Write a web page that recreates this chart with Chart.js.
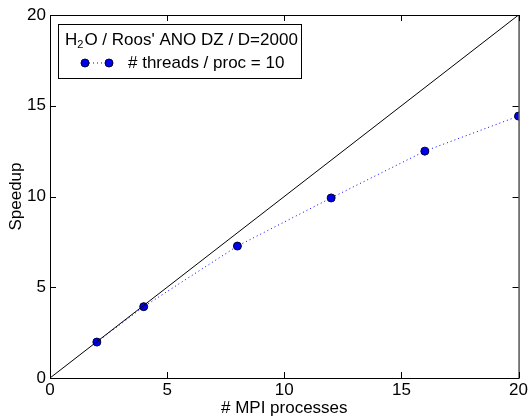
<!DOCTYPE html>
<html>
<head>
<meta charset="utf-8">
<script src="https://cdn.jsdelivr.net/npm/chart.js@4"></script>
<style>
  html, body { margin: 0; padding: 0; background: #fff; }
  #wrap { width: 530px; height: 419px; }
</style>
</head>
<body>
<div id="wrap"><canvas id="speedupChart"></canvas></div>
<script>
// values
const mpiProcs = [2, 4, 8, 12, 16, 20];
const speedup = [1.98, 3.93, 7.27, 9.92, 12.5, 14.43];
const idealX = [0, 20];
const idealY = [0, 20];
const axisTicks = [0, 5, 10, 15, 20];

const FONT = 'Liberation Sans, Arial, sans-serif';

// matplotlib-like frame with inward ticks on all four sides
const framePlugin = {
    id: 'frame',
    afterDatasetsDraw(chart) {
        const { ctx, chartArea: a, scales } = chart;
        ctx.save();
        ctx.strokeStyle = '#000';
        ctx.lineWidth = 1;
        ctx.strokeRect(a.left + 0.5, a.top + 0.5, a.right - a.left, a.bottom - a.top);
        ctx.beginPath();
        axisTicks.forEach(v => {
            const x = Math.round(scales.x.getPixelForValue(v)) + 0.5;
            ctx.moveTo(x, a.bottom); ctx.lineTo(x, a.bottom - 6);
            ctx.moveTo(x, a.top); ctx.lineTo(x, a.top + 6);
            const y = Math.round(scales.y.getPixelForValue(v)) + 0.5;
            ctx.moveTo(a.left, y); ctx.lineTo(a.left + 6, y);
            ctx.moveTo(a.right, y); ctx.lineTo(a.right - 6, y);
        });
        ctx.stroke();
        ctx.restore();
    }
};

// legend box in upper left, drawn by hand
const legendPlugin = {
    id: 'boxLegend',
    afterDraw(chart) {
        const { ctx, chartArea: a } = chart;
        const bx = a.left + 8, by = a.top + 9, bw = 243, bh = 54;
        ctx.save();
        ctx.fillStyle = '#fff';
        ctx.fillRect(bx, by, bw, bh);
        ctx.strokeStyle = '#000';
        ctx.lineWidth = 1;
        ctx.strokeRect(bx + 0.5, by + 0.5, bw, bh);

        ctx.fillStyle = '#000';
        ctx.textBaseline = 'middle';
        ctx.font = '17px ' + FONT;
        let tx = bx + 7;
        const ty = by + 16;
        ctx.fillText('H', tx, ty);
        tx += ctx.measureText('H').width;
        ctx.font = '11px ' + FONT;
        ctx.fillText('2', tx, ty + 5);
        tx += ctx.measureText('2').width + 1;
        ctx.font = '17px ' + FONT;
        ctx.fillText("O / Roos' ANO DZ / D=2000", tx, ty);

        const ly = by + 39;
        ctx.strokeStyle = '#0000ff';
        ctx.setLineDash([1, 3]);
        ctx.beginPath();
        ctx.moveTo(bx + 27, ly); ctx.lineTo(bx + 51, ly);
        ctx.stroke();
        ctx.setLineDash([]);
        [bx + 27, bx + 51].forEach(px => {
            ctx.beginPath();
            ctx.arc(px, ly, 4, 0, Math.PI * 2);
            ctx.fillStyle = '#0000ee';
            ctx.fill();
            ctx.strokeStyle = '#000033';
            ctx.stroke();
        });
        ctx.fillStyle = '#000';
        ctx.fillText('# threads / proc = 10', bx + 70, ly);
        ctx.restore();
    }
};

const ctx = document.getElementById('speedupChart').getContext('2d');

new Chart(ctx, {
    type: 'scatter',
    data: {
        datasets: [
            {
                label: 'ideal',
                data: idealX.map((x, i) => ({ x: x, y: idealY[i] })),
                showLine: true,
                borderColor: '#000',
                borderWidth: 1,
                pointRadius: 0,
                clip: 0
            },
            {
                label: '# threads / proc = 10',
                data: mpiProcs.map((x, i) => ({ x: x, y: speedup[i] })),
                showLine: true,
                borderColor: '#0000ff',
                borderWidth: 1,
                borderDash: [1, 3],
                pointRadius: 4,
                pointBackgroundColor: '#0000ee',
                pointBorderColor: '#000033',
                pointBorderWidth: 1,
                clip: 0
            }
        ]
    },
    options: {
        responsive: true,
        maintainAspectRatio: false,
        animation: false,
        layout: { padding: { top: 15, right: 11, left: 0, bottom: 0 } },
        plugins: {
            legend: { display: false },
            tooltip: { enabled: false }
        },
        scales: {
            x: {
                type: 'linear',
                min: 0,
                max: 20,
                afterFit: s => { s.height = 41; },
                grid: { display: false, drawTicks: false },
                border: { display: false },
                ticks: {
                    stepSize: 5,
                    padding: 2,
                    maxRotation: 0,
                    color: '#000',
                    font: { family: FONT, size: 17 }
                },
                title: {
                    display: true,
                    text: '# MPI processes',
                    color: '#000',
                    padding: 0,
                    font: { family: FONT, size: 17 }
                }
            },
            y: {
                min: 0,
                max: 20,
                afterFit: s => { s.width = 50; },
                grid: { display: false, drawTicks: false },
                border: { display: false },
                ticks: {
                    stepSize: 5,
                    padding: 4,
                    color: '#000',
                    font: { family: FONT, size: 17 }
                },
                title: {
                    display: true,
                    text: 'Speedup',
                    color: '#000',
                    padding: { top: 6, bottom: 0 },
                    font: { family: FONT, size: 17 }
                }
            }
        }
    },
    plugins: [framePlugin, legendPlugin]
});
</script>
</body>
</html>
